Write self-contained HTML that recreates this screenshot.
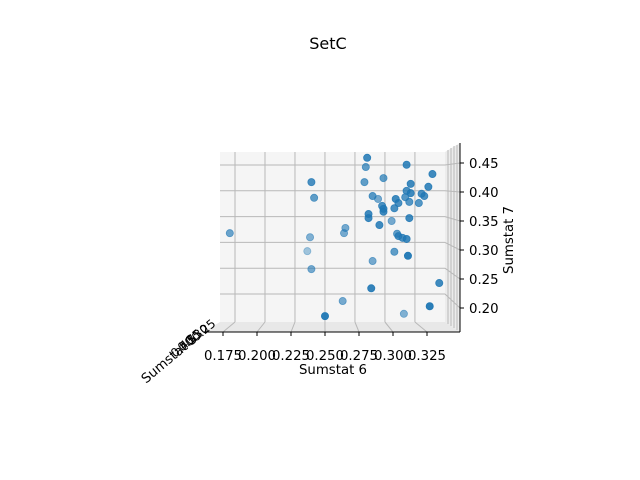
<!DOCTYPE html>
<html><head><meta charset="utf-8"><style>
body{margin:0;background:#fff;}
svg{display:block;font-family:"DejaVu Sans","Liberation Sans",sans-serif;}
</style></head><body>
<svg width="640" height="480">
<text x="328" y="49" font-size="16" text-anchor="middle">SetC</text>
<polygon points="220,152 445,152 445,322 220,322" fill="#f5f5f5"/>
<polygon points="445,152 460,143 460,332 445,322" fill="#ececec"/>
<polygon points="220,322 445,322 460,332 203,332" fill="#e8e8e8"/>
<g id="grid" stroke="#b8b8b8" stroke-width="1"></g>
<g stroke="#b8b8b8">
<line x1="448" y1="150" x2="448" y2="324"/><line x1="451" y1="148" x2="451" y2="326"/><line x1="454" y1="146" x2="454" y2="328"/><line x1="457" y1="145" x2="457" y2="330"/>
</g>
<line x1="203" y1="332" x2="460" y2="332" stroke="#000"/>
<line x1="460" y1="143" x2="460" y2="332" stroke="#000"/>
<g id="ticks" font-size="13.3"></g>
<g id="pts"></g>
<text x="333" y="374" font-size="13.3" text-anchor="middle">Sumstat 6</text>
<text x="0" y="0" font-size="13.3" text-anchor="middle" transform="translate(513,240) rotate(-90)">Sumstat 7</text>
<text x="0" y="0" font-size="13.3" text-anchor="middle" transform="translate(172,362) rotate(-40)">Sumstat 5</text>
<g font-size="12">
<text transform="translate(175,358) rotate(-40)">0.40</text>
<text transform="translate(182,352) rotate(-40)">0.35</text>
<text transform="translate(189,347) rotate(-40)">0.30</text>
<text transform="translate(196,342) rotate(-40)">0.25</text>
</g>
</svg>
<script>
const xs=[0.180,0.240,0.242,0.239,0.237,0.240,0.265,0.264,0.263,0.250,0.281,0.280,0.279,0.293,0.285,0.289,0.282,0.282,0.292,0.293,0.293,0.290,0.299,0.285,0.284,0.310,0.329,0.302,0.304,0.301,0.309,0.310,0.313,0.313,0.312,0.321,0.323,0.326,0.319,0.312,0.303,0.304,0.307,0.310,0.301,0.311,0.334,0.327,0.308];
const zs=[0.329,0.417,0.390,0.322,0.298,0.267,0.338,0.329,0.212,0.186,0.459,0.443,0.417,0.424,0.393,0.388,0.362,0.355,0.376,0.371,0.366,0.343,0.350,0.281,0.234,0.447,0.431,0.388,0.381,0.372,0.391,0.402,0.414,0.398,0.383,0.397,0.393,0.409,0.381,0.355,0.328,0.324,0.321,0.319,0.297,0.290,0.243,0.203,0.190];
const alphas=[0.65,0.8,0.7,0.55,0.4,0.6,0.6,0.6,0.6,0.95,0.85,0.7,0.7,0.7,0.75,0.6,0.85,0.85,0.8,0.85,0.85,0.85,0.6,0.6,0.9,0.85,0.85,0.85,0.8,0.8,0.75,0.8,0.85,0.85,0.75,0.8,0.8,0.85,0.75,0.85,0.7,0.8,0.8,0.85,0.7,0.95,0.85,0.95,0.55];
const xTicks=[0.175,0.200,0.225,0.250,0.275,0.300,0.325];
const zTicks=[0.20,0.25,0.30,0.35,0.40,0.45];
const X=v=>223+(v-0.175)/0.025*34;
const Z=v=>308-(v-0.2)/0.05*29;
const NS='http://www.w3.org/2000/svg';
const grid=document.getElementById('grid'),ticks=document.getElementById('ticks'),pts=document.getElementById('pts');
function mk(tag,attrs,parent){const e=document.createElementNS(NS,tag);for(const k in attrs)e.setAttribute(k,attrs[k]);parent.appendChild(e);return e;}
xTicks.forEach(t=>{
 const x=X(t);
 const bx=235+(x-223)*0.882;
 const g=mk('line',{x1:bx,y1:152,x2:bx,y2:322},grid);
 
 
 mk('line',{x1:bx,y1:322,x2:x,y2:332},grid);
 const tk=mk('line',{x1:x,y1:332,x2:x,y2:336,stroke:'#000'},ticks);
 
 
 const tl=mk('text',{x:x,y:360,'text-anchor':'middle'},ticks);
 tl.textContent=t.toFixed(3);
 
 
});
zTicks.forEach(t=>{
 const y=Z(t);
 const by=165+(y-163)*129/145;
 const g=mk('line',{x1:220,y1:by,x2:445,y2:by},grid);
 
 
 mk('line',{x1:445,y1:by,x2:460,y2:y},grid);
 const tk=mk('line',{x1:460,y1:y,x2:464,y2:y,stroke:'#000'},ticks);
 
 
 const tl=mk('text',{x:469,y:y+5},ticks);
 tl.textContent=t.toFixed(2);
 
 
});
xs.forEach((v,i)=>{
 const c=mk('circle',{cx:X(v),cy:Z(zs[i]),r:3.6,fill:'#1f77b4','fill-opacity':alphas[i],stroke:'#1f77b4','stroke-opacity':alphas[i],'stroke-width':0.8},pts);
 
 
});
</script>
</body></html>
